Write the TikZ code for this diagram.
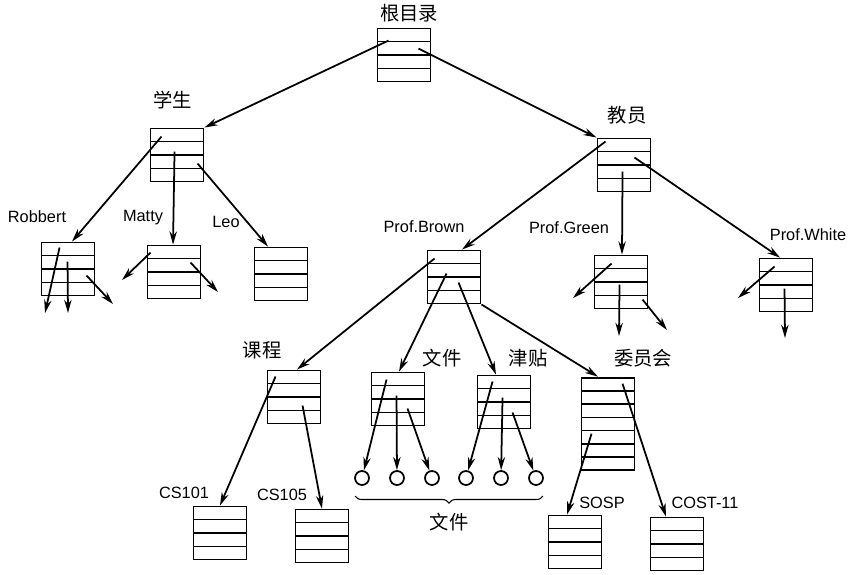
\documentclass[tikz,border=0pt]{standalone}
\usepackage{fontspec}
\setmainfont{Liberation Sans}
\newfontfamily\cjk{Noto Sans CJK SC}
\usetikzlibrary{arrows.meta,calc,decorations.pathreplacing}

\begin{document}
\begin{tikzpicture}[
x=0.02cm, y=-0.02cm,
dirbox/.style={draw, line width=1.1pt, minimum width=1.06cm, minimum height=#1*0.265cm, inner sep=0pt,
  path picture={\foreach \k in {1,...,#1}{\draw[line width=0.75pt]
    ($(path picture bounding box.north west)!\k/#1!(path picture bounding box.south west)$) --
    ($(path picture bounding box.north east)!\k/#1!(path picture bounding box.south east)$);}}},
dirbox/.default=4,
file/.style={draw, circle, line width=1pt, minimum size=0.28cm, inner sep=0pt},
cn/.style={font=\cjk\fontsize{11}{13}\selectfont},
en/.style={font=\fontsize{9.3}{11}\selectfont},
arrow/.style={-{Stealth[length=7.5pt,width=4.2pt]}, line width=1pt}
]
\useasboundingbox (0,0) rectangle (850,575);

% -------- Root --------
\node[dirbox] (root) at (404,55) {};
\node[cn] (root-l) at (409,13) {根目录};

% -------- Students --------
\node[dirbox] (xs) at (177,155) {};
\node[cn] (xs-l) at (173,100) {学生};

\node[dirbox] (rb) at (68,269) {};
\node[en] (rb-l) at (37,217) {Robbert};
\node[dirbox] (mt) at (174,272) {};
\node[en] (mt-l) at (143,218) {Matty};
\node[dirbox] (leo) at (281,274) {};
\node[en] (leo-l) at (226,222) {Leo};

\coordinate (rb-o1) at (45,313);
\coordinate (rb-o2) at (68,313);
\coordinate (rb-o3) at (113,304);
\coordinate (mt-o1) at (122,280);
\coordinate (mt-o2) at (218,292);

\draw[arrow] ([shift={(12,13)}]root.north west) -- (xs.north east);
\draw[arrow] ([shift={(12,9)}]xs.north west) -- ([shift={(4,0)}]rb.north);
\draw[arrow] ([shift={(25,24)}]xs.north west) -- ([shift={(-1,0)}]mt.north);
\draw[arrow] ([shift={(48,36)}]xs.north west) -- ([shift={(-13,0)}]leo.north);
\draw[arrow] ([shift={(19,6)}]rb.north west) -- (rb-o1);
\draw[arrow] ([shift={(27,20)}]rb.north west) -- (rb-o2);
\draw[arrow] ([shift={(46,34)}]rb.north west) -- (rb-o3);
\draw[arrow] ([shift={(4,8)}]mt.north west) -- (mt-o1);
\draw[arrow] ([shift={(44,18)}]mt.north west) -- (mt-o2);

% -------- Staff --------
\node[dirbox] (jy) at (624,165) {};
\node[cn] (jy-l) at (627,115) {教员};

\node[dirbox] (pb) at (454,277) {};
\node[en] (pb-l) at (424,227) {Prof.Brown};
\node[dirbox] (pg) at (621,282) {};
\node[en] (pg-l) at (569,228) {Prof.Green};
\node[dirbox] (pw) at (786,285) {};
\node[en] (pw-l) at (808,235) {Prof.White};

\coordinate (pg-o1) at (573,298);
\coordinate (pg-o2) at (619,336);
\coordinate (pg-o3) at (667,330);
\coordinate (pw-o1) at (738,298);
\coordinate (pw-o2) at (785,338);

\draw[arrow] ([shift={(42,21)}]root.north west) -- (jy.north west);
\draw[arrow] ([shift={(9,4)}]jy.north west) -- ([shift={(8,0)}]pb.north);
\draw[arrow] ([shift={(26,34)}]jy.north west) -- ([shift={(1,0)}]pg.north);
\draw[arrow] ([shift={(38,20)}]jy.north west) -- ([shift={(-6,0)}]pw.north);
\draw[arrow] ([shift={(18,9)}]pg.north west) -- (pg-o1);
\draw[arrow] ([shift={(26,30)}]pg.north west) -- (pg-o2);
\draw[arrow] ([shift={(49,45)}]pg.north west) -- (pg-o3);
\draw[arrow] ([shift={(16,9)}]pw.north west) -- (pw-o1);
\draw[arrow] ([shift={(26,31)}]pw.north west) -- (pw-o2);

% -------- Prof.Brown --------
\node[dirbox] (kc) at (294,397) {};
\node[cn] (kc-l) at (262,350) {课程};
\node[dirbox] (wj) at (398,399) {};
\node[cn] (wj-l) at (442,358) {文件};
\node[dirbox] (jt) at (504,402) {};
\node[cn] (jt-l) at (528,358) {津贴};
\node[dirbox=7] (wyh) at (608,424) {};
\node[cn] (wyh-l) at (643,358) {委员会};

\draw[arrow] ([shift={(8,9)}]pb.north west) -- ([shift={(3,0)}]kc.north);
\draw[arrow] ([shift={(20,24)}]pb.north west) -- ([shift={(1,0)}]wj.north);
\draw[arrow] ([shift={(32,33)}]pb.north west) -- ([shift={(-8,0)}]jt.north);
\draw[arrow] (pb.south east) -- ([shift={(-10,0)}]wyh.north);

% -------- Courses --------
\node[dirbox] (cs101) at (220,533) {};
\node[en] (cs101-l) at (184,493) {CS101};
\node[dirbox] (cs105) at (322,536) {};
\node[en] (cs105-l) at (282,495) {CS105};

\draw[arrow] ([shift={(9,7)}]kc.north west) -- (cs101.north);
\draw[arrow] ([shift={(36,36)}]kc.north west) -- (cs105.north);

% -------- Files --------
\foreach \i/\x in {1/362,2/397,3/432,4/466,5/501,6/536}
  \node[file] (f\i) at (\x,478) {};

\draw[arrow] ([shift={(16,8)}]wj.north west) -- (f1);
\draw[arrow] ([shift={(26,24)}]wj.north west) -- (f2);
\draw[arrow] ([shift={(37,37)}]wj.north west) -- (f3);
\draw[arrow] ([shift={(16,7)}]jt.north west) -- (f4);
\draw[arrow] ([shift={(26,23)}]jt.north west) -- (f5);
\draw[arrow] ([shift={(36,38)}]jt.north west) -- (f6);

\coordinate (br-l) at (355,496);
\coordinate (br-r) at (543,496);
\draw[line width=0.6pt, decorate, decoration={brace, mirror, amplitude=4pt}] (br-l) -- (br-r);
\node[cn] (br-t) at (449,522) {文件};

% -------- Committees --------
\node[dirbox] (sosp) at (575,542) {};
\node[en] (sosp-l) at (602,503) {SOSP};
\node[dirbox] (cost) at (677,544) {};
\node[en] (cost-l) at (705,503) {COST-11};

\draw[arrow] ([shift={(11,57)}]wyh.north west) -- ([shift={(-8,0)}]sosp.north);
\draw[arrow] ([shift={(42,7)}]wyh.north west) -- ([shift={(-11,0)}]cost.north);

\end{tikzpicture}
\end{document}
